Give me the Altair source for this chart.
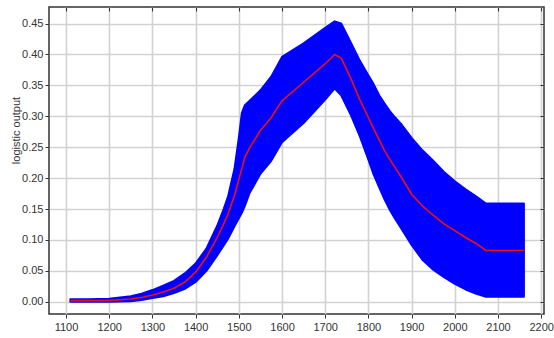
import altair as alt
import pandas as pd

# Model output over time: mean curve with its uncertainty band
year = [1110, 1150, 1200, 1250, 1275, 1300, 1325, 1350, 1375, 1400, 1425, 1450,
        1465, 1475, 1490, 1500, 1507, 1514, 1525, 1550, 1575, 1600, 1650, 1700,
        1722, 1737, 1760, 1780, 1800, 1812, 1825, 1837, 1850, 1862, 1875, 1900,
        1925, 1950, 1975, 2000, 2025, 2050, 2072, 2160]
mean = [0.002, 0.002, 0.002, 0.0045, 0.007, 0.011, 0.016, 0.022, 0.032, 0.048, 0.072, 0.104,
        0.126, 0.142, 0.172, 0.198, 0.215, 0.234, 0.249, 0.277, 0.298, 0.325, 0.355, 0.385,
        0.400, 0.394, 0.360, 0.327, 0.298, 0.280, 0.262, 0.245, 0.230, 0.217, 0.203, 0.174,
        0.155, 0.140, 0.126, 0.115, 0.104, 0.094, 0.083, 0.083]
upper = [0.004, 0.004, 0.005, 0.009, 0.013, 0.019, 0.026, 0.034, 0.046, 0.062, 0.086, 0.123,
         0.150, 0.170, 0.215, 0.265, 0.305, 0.318, 0.325, 0.342, 0.364, 0.396, 0.418, 0.443,
         0.4535, 0.450, 0.418, 0.390, 0.366, 0.352, 0.334, 0.321, 0.308, 0.298, 0.288, 0.265,
         0.245, 0.228, 0.210, 0.195, 0.182, 0.170, 0.159, 0.159]
lower = [0.000, 0.000, 0.000, 0.001, 0.003, 0.006, 0.009, 0.014, 0.021, 0.032, 0.050, 0.075,
         0.091, 0.102, 0.122, 0.135, 0.144, 0.155, 0.176, 0.207, 0.228, 0.258, 0.289, 0.327,
         0.345, 0.334, 0.301, 0.268, 0.230, 0.206, 0.185, 0.166, 0.148, 0.134, 0.120, 0.092,
         0.068, 0.052, 0.040, 0.029, 0.020, 0.013, 0.008, 0.008]

x_ticks = [1100, 1200, 1300, 1400, 1500, 1600, 1700, 1800, 1900, 2000, 2100, 2200]
y_ticks = [0.0, 0.05, 0.10, 0.15, 0.20, 0.25, 0.30, 0.35, 0.40, 0.45]

df = pd.DataFrame({"year": year, "mean": mean, "upper": upper, "lower": lower})

FONT = "Liberation Sans"
TXT = "#333333"
GRID = "#d2d2d2"

xscale = alt.Scale(domain=[1060.6, 2206.5], nice=False, zero=False)
yscale = alt.Scale(domain=[-0.0197, 0.4767], nice=False, zero=False)

bottom_axis = alt.Axis(
    orient="bottom", values=x_ticks, format="d", title=None,
    grid=True, gridColor=GRID, gridWidth=1.6, domain=False,
    ticks=True, tickSize=4, tickColor=TXT, tickWidth=1,
    labelFont=FONT, labelFontSize=11, labelColor=TXT, labelPadding=3,
)
left_axis = alt.Axis(
    orient="left", values=y_ticks, format=".2f", title="logistic output",
    grid=True, gridColor=GRID, gridWidth=1.6, domain=False,
    ticks=True, tickSize=4, tickColor=TXT, tickWidth=1,
    labelFont=FONT, labelFontSize=11, labelColor=TXT, labelPadding=2,
    titleFont=FONT, titleFontSize=11, titleFontWeight="normal", titleColor=TXT,
    titleAngle=270, titleAlign="center", titleBaseline="middle",
    titleX=-33, titleY=123,
)
# inward ticks along the top and right edges of the frame
top_axis = alt.Axis(
    orient="top", values=x_ticks, labels=False, title=None, grid=False,
    domain=False, ticks=True, tickSize=4, tickColor=TXT, tickWidth=1, offset=-4,
)
right_axis = alt.Axis(
    orient="right", values=y_ticks, labels=False, title=None, grid=False,
    domain=False, ticks=True, tickSize=4, tickColor=TXT, tickWidth=1, offset=-4,
)

band = alt.Chart(df).mark_area(
    color="#0000ff", stroke="#0000ff", strokeWidth=2, strokeJoin="round", opacity=1
).encode(
    x=alt.X("year:Q", scale=xscale, axis=bottom_axis),
    y=alt.Y("upper:Q", scale=yscale, axis=left_axis),
    y2="lower:Q",
)

line = alt.Chart(df).mark_line(color="#ee1111", strokeWidth=1.6).encode(
    x=alt.X("year:Q", scale=xscale, axis=top_axis),
    y=alt.Y("mean:Q", scale=yscale, axis=right_axis),
)

chart = alt.layer(band, line).resolve_axis(
    x="independent", y="independent"
).properties(
    width=495, height=307,
    autosize="none",
    padding={"left": 49, "top": 7, "right": 10, "bottom": 24},
    background="white",
).configure_view(
    stroke="#333333", strokeWidth=1.5
)

chart.save("out.html", embed_options={"renderer": "svg", "actions": False})
